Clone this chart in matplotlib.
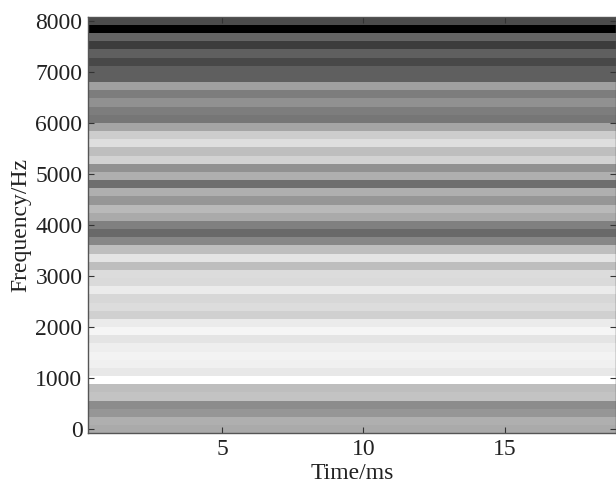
import numpy as np
import matplotlib
matplotlib.use("Agg")
import matplotlib.pyplot as plt

plt.rcParams['font.family'] = ['Liberation Serif', 'DejaVu Serif']

time_limits = [0.265, 18.93]
freq_step = 160
# spectrogram intensity per frequency bin (grey level), from 8000 Hz bin down to 0 Hz bin
levels_top_down = [
    75, 0, 100, 60, 95, 72, 95, 95, 160, 125, 145, 125, 118, 165, 205, 222, 190,
    210, 145, 175, 110, 175, 150, 185, 170, 128, 105, 135, 190, 228, 190, 220,
    218, 235, 215, 220, 208, 235, 245, 228, 238, 243, 240, 232, 255, 190, 195,
    140, 150, 175, 170,
]
x_ticks = [5, 10, 15]
y_ticks = [0, 1000, 2000, 3000, 4000, 5000, 6000, 7000, 8000]
x_label = "Time/ms"
y_label = "Frequency/Hz"

fig = plt.figure(figsize=(6.16, 4.84), dpi=100)
W, H = 616, 484
ax = fig.add_axes([88 / W, 1 - 433.3 / H, (616 - 88) / W, (433.3 - 16.7) / H])

levels = np.array(levels_top_down[::-1], dtype=float)
freqs = np.arange(len(levels)) * freq_step
f_edges = np.append(freqs - freq_step / 2, freqs[-1] + freq_step / 2)
t_edges = np.array(time_limits)
ax.pcolormesh(t_edges, f_edges, levels[:, None], cmap="gray", vmin=0, vmax=255,
              shading="flat", rasterized=True)

ax.set_xlim(*time_limits)
ax.set_ylim(f_edges[0], f_edges[-1])
ax.set_xticks(x_ticks)
ax.set_yticks(y_ticks)
ax.tick_params(direction="in", length=4.5, width=0.8, color="#333333",
               top=True, right=True, labelsize=17, pad=4, labelcolor="#222222")
for s in ax.spines.values():
    s.set_linewidth(1.0)
    s.set_color("#555555")
ax.set_xlabel(x_label, fontsize=17, labelpad=2.4, color="#222222")
ax.set_ylabel(y_label, fontsize=17, labelpad=3, color="#222222")
fig.savefig("out.png", dpi=100)
